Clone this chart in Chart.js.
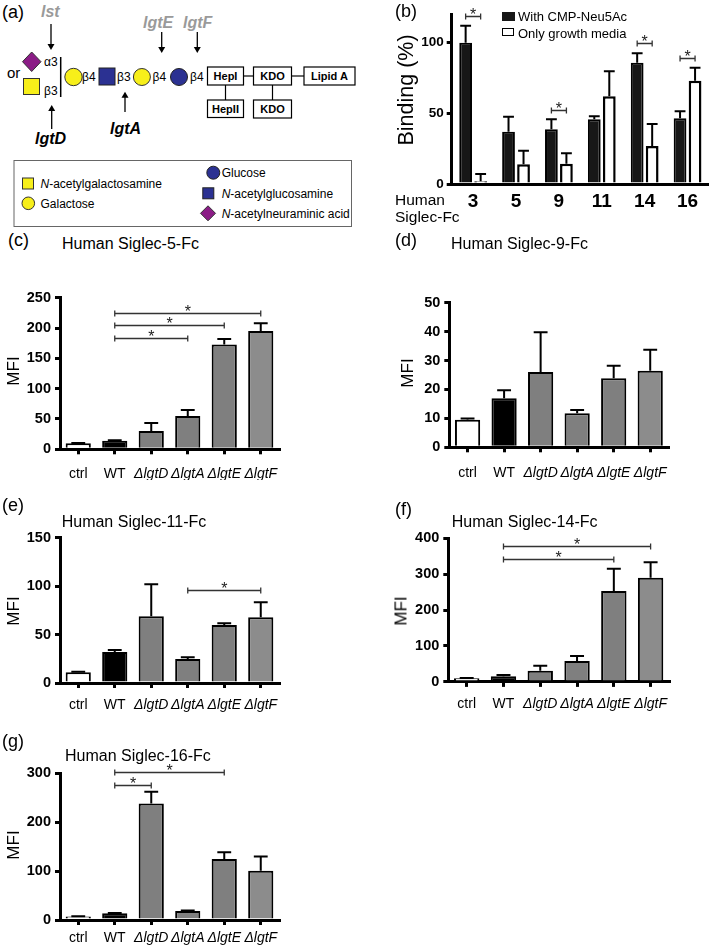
<!DOCTYPE html>
<html><head><meta charset="utf-8">
<script src="https://cdn.jsdelivr.net/npm/chart.js@4.4.1/dist/chart.umd.min.js"></script>
<style>
html,body{margin:0;padding:0;background:#fff;}
body{width:709px;height:946px;position:relative;overflow:hidden;font-family:"Liberation Sans",Arial,sans-serif;color:#000;}
canvas{position:absolute;}
.t{position:absolute;white-space:nowrap;line-height:1;}
</style></head><body>
<svg width="360" height="232" style="position:absolute;left:0;top:0" font-family="Liberation Sans, Arial, sans-serif">
  <text x="2" y="18" font-size="18">(a)</text>
  <text x="41" y="17" font-size="16" font-weight="bold" font-style="italic" fill="#9a9a9a">lst</text>
  <line x1="51" y1="24" x2="51" y2="45" stroke="#000" stroke-width="1.3"/>
  <polygon points="47.5,44 54.5,44 51,50" fill="#000"/>
  <text x="143" y="28" font-size="16" font-weight="bold" font-style="italic" fill="#9a9a9a">lgtE</text>
  <text x="183" y="28" font-size="16" font-weight="bold" font-style="italic" fill="#9a9a9a">lgtF</text>
  <line x1="161.7" y1="32" x2="161.7" y2="48" stroke="#000" stroke-width="1.3"/>
  <polygon points="158.2,47 165.2,47 161.7,53" fill="#000"/>
  <line x1="197.3" y1="32" x2="197.3" y2="48" stroke="#000" stroke-width="1.3"/>
  <polygon points="193.8,47 200.8,47 197.3,53" fill="#000"/>
  <polygon points="31.7,52 41,61.7 31.7,71.5 22.5,61.7" fill="#8b1c86" stroke="#333" stroke-width="1"/>
  <text x="44" y="66" font-size="12">α3</text>
  <text x="7" y="78" font-size="15">or</text>
  <rect x="23.5" y="78.5" width="16" height="16" fill="#f7ef1a" stroke="#333" stroke-width="1"/>
  <text x="44" y="95" font-size="12">β3</text>
  <line x1="60.7" y1="57" x2="60.7" y2="97" stroke="#000" stroke-width="1.5"/>
  <circle cx="73.5" cy="77" r="8.7" fill="#f7ef1a" stroke="#333" stroke-width="1"/>
  <text x="82" y="81" font-size="12">β4</text>
  <rect x="99" y="68" width="16" height="17" fill="#2b3192" stroke="#222" stroke-width="1"/>
  <text x="117" y="81" font-size="12">β3</text>
  <circle cx="141.9" cy="77" r="8.5" fill="#f7ef1a" stroke="#333" stroke-width="1"/>
  <text x="152.5" y="81" font-size="12">β4</text>
  <circle cx="179" cy="77" r="8.5" fill="#2b3192" stroke="#222" stroke-width="1"/>
  <text x="190" y="81" font-size="12">β4</text>
  <rect x="207.5" y="67" width="36" height="18" fill="#fff" stroke="#000" stroke-width="1.2"/>
  <text x="225.5" y="80" font-size="11" font-weight="bold" text-anchor="middle">HepI</text>
  <line x1="243.5" y1="76" x2="253.5" y2="76" stroke="#000" stroke-width="1.2"/>
  <rect x="253.5" y="67" width="38" height="18" fill="#fff" stroke="#000" stroke-width="1.2"/>
  <text x="272.5" y="80" font-size="11" font-weight="bold" text-anchor="middle">KDO</text>
  <line x1="291.5" y1="76" x2="304" y2="76" stroke="#000" stroke-width="1.2"/>
  <rect x="304" y="67" width="51" height="18" fill="#fff" stroke="#000" stroke-width="1.2"/>
  <text x="329.5" y="80" font-size="11" font-weight="bold" text-anchor="middle">Lipid A</text>
  <line x1="225.5" y1="85" x2="225.5" y2="100" stroke="#000" stroke-width="1.2"/>
  <rect x="207.5" y="100" width="36" height="17.5" fill="#fff" stroke="#000" stroke-width="1.2"/>
  <text x="225.5" y="112.5" font-size="11" font-weight="bold" text-anchor="middle">HepII</text>
  <line x1="272.5" y1="85" x2="272.5" y2="100" stroke="#000" stroke-width="1.2"/>
  <rect x="253.5" y="100" width="38" height="18" fill="#fff" stroke="#000" stroke-width="1.2"/>
  <text x="272.5" y="113" font-size="11" font-weight="bold" text-anchor="middle">KDO</text>
  <line x1="51.7" y1="110" x2="51.7" y2="129" stroke="#000" stroke-width="1.3"/>
  <polygon points="48.2,111 55.2,111 51.7,105" fill="#000"/>
  <text x="35" y="144" font-size="16" font-weight="bold" font-style="italic">lgtD</text>
  <line x1="125" y1="96" x2="125" y2="112" stroke="#000" stroke-width="1.3"/>
  <polygon points="121.5,97.7 128.5,97.7 125,91.7" fill="#000"/>
  <text x="110" y="134" font-size="16" font-weight="bold" font-style="italic">lgtA</text>
  <rect x="14" y="160.5" width="337.5" height="66" fill="none" stroke="#666" stroke-width="1"/>
  <rect x="22.5" y="178" width="11" height="11" fill="#f7ef1a" stroke="#333" stroke-width="1"/>
  <text x="40.5" y="188" font-size="12"><tspan font-style="italic">N</tspan>-acetylgalactosamine</text>
  <circle cx="28.3" cy="203.3" r="6.3" fill="#f7ef1a" stroke="#333" stroke-width="1"/>
  <text x="40.5" y="207.5" font-size="12">Galactose</text>
  <circle cx="213.3" cy="172.7" r="6.5" fill="#2b3192" stroke="#222" stroke-width="1"/>
  <text x="221.7" y="177" font-size="12">Glucose</text>
  <rect x="202.8" y="187.8" width="11" height="11" fill="#2b3192" stroke="#222" stroke-width="1"/>
  <text x="221.7" y="197.5" font-size="12"><tspan font-style="italic">N</tspan>-acetylglucosamine</text>
  <polygon points="208,205.8 215.5,213.3 208,220.8 200.5,213.3" fill="#8b1c86" stroke="#333" stroke-width="1"/>
  <text x="221.7" y="217.5" font-size="12"><tspan font-style="italic">N</tspan>-acetylneuraminic acid</text>
</svg>
<script>
// ---------- data ----------
const mutants = ['ctrl', 'WT', 'ΔlgtD', 'ΔlgtA', 'ΔlgtE', 'ΔlgtF'];
const siglecs = ['3', '5', '9', '11', '14', '16'];
const seriesNames = ['With CMP-Neu5Ac', 'Only growth media'];

const bWith    = [100, 37, 38.7, 45.8, 85.8, 46.5];
const bWithErr = [12, 10.6, 7.1, 2.2, 6.7, 4.9];
const bOnly    = [2, 14, 14.4, 62, 26.9, 73.1];
const bOnlyErr = [5, 9.6, 7.3, 17.7, 15.6, 9.2];
const bTicks   = [0, 50, 100];
const bSig     = [[0, 119], [2, 52.4], [4, 99.6], [5, 89]];

const cMFI = [10, 14, 30, 55, 173, 195];
const cErr = [0.5, 1, 13.5, 10, 9, 13];
const cTicks = [0, 50, 100, 150, 200, 250];
const cSig = [[1, 3, 183], [1, 4, 204.5], [1, 5, 225.5]];

const dMFI = [9.5, 17, 26, 11.8, 23.9, 26.5];
const dErr = [0.5, 2.7, 13.8, 1.1, 4.3, 7.2];
const dTicks = [0, 10, 20, 30, 40, 50];
const dSig = [];

const eMFI = [11, 32, 69, 24.7, 60, 68];
const eErr = [0.5, 2, 33, 2, 1.7, 15.3];
const eTicks = [0, 50, 100, 150];
const eSig = [[3, 5, 95.8]];

const fMFI = [10, 16, 31, 58, 253, 290];
const fErr = [1, 3, 14, 14, 62, 43];
const fTicks = [0, 100, 200, 300, 400];
const fSig = [[1, 4, 341], [1, 5, 379]];

const gMFI = [7, 14, 238, 18.4, 124.7, 100.8];
const gErr = [0.5, 0.5, 24.5, 1, 13.7, 29.2];
const gTicks = [0, 100, 200, 300];
const gSig = [[1, 2, 277], [1, 4, 302.6]];

// ---------- styling ----------
const FF = '"Liberation Sans", Arial, sans-serif';
const barFill = ['#ffffff', '#000000', '#7f7f7f', '#7f7f7f', '#7f7f7f', '#8c8c8c'];

const errPlugin = {
  id: 'errbars',
  afterDatasetsDraw(chart) {
    const ctx = chart.ctx, y = chart.scales.y;
    const capR = (chart.options.plugins.errbars || {}).cap || 0.55;
    chart.data.datasets.forEach((ds, di) => {
      if (!ds.errors) return;
      const meta = chart.getDatasetMeta(di);
      meta.data.forEach((bar, i) => {
        const e = ds.errors[i];
        if (e == null) return;
        const top = y.getPixelForValue(ds.data[i] + e);
        const cap = bar.width * capR;
        ctx.save();
        ctx.strokeStyle = '#000'; ctx.lineWidth = 2;
        ctx.beginPath();
        ctx.moveTo(bar.x, bar.y); ctx.lineTo(bar.x, top);
        ctx.moveTo(bar.x - cap / 2, top); ctx.lineTo(bar.x + cap / 2, top);
        ctx.stroke();
        ctx.restore();
      });
    });
  }
};

const sigPlugin = {
  id: 'sig',
  afterDatasetsDraw(chart) {
    const list = (chart.options.plugins.sig || {}).brackets || [];
    const ctx = chart.ctx, y = chart.scales.y;
    list.forEach(s => {
      let x1, x2, v;
      if (s.length === 2) {
        x1 = chart.getDatasetMeta(0).data[s[0]].x;
        x2 = chart.getDatasetMeta(1).data[s[0]].x;
        v = s[1];
      } else {
        const m = chart.getDatasetMeta(0).data;
        x1 = m[s[0]].x; x2 = m[s[1]].x; v = s[2];
      }
      const py = Math.round(y.getPixelForValue(v)) + 0.5;
      ctx.save();
      ctx.strokeStyle = '#333'; ctx.lineWidth = 1.3;
      ctx.beginPath();
      ctx.moveTo(x1, py); ctx.lineTo(x2, py);
      ctx.moveTo(x1, py - 3); ctx.lineTo(x1, py + 3);
      ctx.moveTo(x2, py - 3); ctx.lineTo(x2, py + 3);
      ctx.stroke();
      ctx.fillStyle = '#222';
      ctx.font = '16px ' + FF;
      ctx.textAlign = 'center'; ctx.textBaseline = 'alphabetic';
      ctx.fillText('*', (x1 + x2) / 2, py + 3.5);
      ctx.restore();
    });
  }
};

function makeCanvas(box) {
  const cv = document.createElement('canvas');
  cv.width = box.w; cv.height = box.h;
  cv.style.left = box.x + 'px'; cv.style.top = box.y + 'px';
  document.body.appendChild(cv);
  return cv;
}

function mfiChart(box, area, values, errs, ticks, sig, labelPad) {
  const cv = makeCanvas(box);
  const yW = area.left - box.x, xH = box.y + box.h - area.bottom;
  return new Chart(cv, {
    type: 'bar',
    data: { labels: mutants, datasets: [{
      data: values, errors: errs, backgroundColor: barFill, borderColor: '#000',
      borderWidth: 2, barPercentage: 0.69, categoryPercentage: 1 }] },
    options: {
      responsive: false, animation: false, events: [],
      layout: { padding: { left: 0, top: area.top - box.y, right: box.x + box.w - area.right, bottom: 0 } },
      plugins: { legend: { display: false }, tooltip: { enabled: false }, sig: { brackets: sig }, errbars: { cap: 0.55 } },
      scales: {
        x: {
          offset: true,
          grid: { display: true, drawOnChartArea: false, drawTicks: true, tickLength: 5, lineWidth: 3, color: '#000', offset: false },
          border: { display: true, color: '#000', width: 3 },
          ticks: { color: '#000', padding: labelPad, maxRotation: 0, autoSkip: false,
            font: c => ({ family: FF, size: 14, style: c.index >= 2 ? 'italic' : 'normal' }) },
          afterFit: s => { s.height = xH; }
        },
        y: {
          min: 0, max: ticks[ticks.length - 1],
          afterBuildTicks: s => { s.ticks = ticks.map(v => ({ value: v })); },
          grid: { drawOnChartArea: false, tickLength: 5, lineWidth: 3, color: '#000' },
          border: { color: '#000', width: 3 },
          ticks: { color: '#000', padding: 4, font: { family: FF, size: 14.5, weight: 'bold' } },
          afterFit: s => { s.width = yW; }
        }
      }
    },
    plugins: [errPlugin, sigPlugin]
  });
}

// ---------- panel (b) ----------
(function () {
  const box = { x: 395, y: 0, w: 314, h: 230 };
  const area = { left: 451.7, top: 14.4, bottom: 184, right: 709 };
  const cv = makeCanvas(box);
  new Chart(cv, {
    type: 'bar',
    data: { labels: siglecs, datasets: [
      { label: seriesNames[0], data: bWith, errors: bWithErr, backgroundColor: '#171717', borderColor: '#000', borderWidth: 2, categoryPercentage: 0.7, barPercentage: 0.85 },
      { label: seriesNames[1], data: bOnly, errors: bOnlyErr, backgroundColor: '#ffffff', borderColor: '#000', borderWidth: 2.5, categoryPercentage: 0.7, barPercentage: 0.85 }
    ] },
    options: {
      responsive: false, animation: false, events: [],
      layout: { padding: { left: 0, top: area.top - box.y, right: box.x + box.w - area.right, bottom: 0 } },
      plugins: { legend: { display: false }, tooltip: { enabled: false }, sig: { brackets: bSig }, errbars: { cap: 0.85 } },
      scales: {
        x: {
          grid: { display: false },
          border: { display: true, color: '#000', width: 3 },
          ticks: { color: '#000', padding: -2, maxRotation: 0, font: { family: FF, size: 19, weight: 'bold' } },
          afterFit: s => { s.height = box.y + box.h - area.bottom; }
        },
        y: {
          min: 0, max: 120,
          afterBuildTicks: s => { s.ticks = bTicks.map(v => ({ value: v })); },
          grid: { drawOnChartArea: false, tickLength: 5, lineWidth: 3, color: '#000' },
          border: { color: '#000', width: 3 },
          ticks: { color: '#000', padding: 3, font: { family: FF, size: 13.5, weight: 'bold' } },
          afterFit: s => { s.width = area.left - box.x; }
        }
      }
    },
    plugins: [errPlugin, sigPlugin]
  });
})();

// ---------- MFI panels ----------
mfiChart({ x: 0, y: 285, w: 290, h: 195 }, { left: 60, top: 294, bottom: 449.3, right: 279 }, cMFI, cErr, cTicks, cSig, 11.5);
mfiChart({ x: 400, y: 285, w: 280, h: 195 }, { left: 449.3, top: 302.7, bottom: 447.3, right: 669 }, dMFI, dErr, dTicks, dSig, 12.5);
mfiChart({ x: 0, y: 525, w: 290, h: 190 }, { left: 60, top: 535, bottom: 683, right: 279 }, eMFI, eErr, eTicks, eSig, 9);
mfiChart({ x: 400, y: 525, w: 280, h: 190 }, { left: 448.3, top: 538.3, bottom: 681.9, right: 669 }, fMFI, fErr, fTicks, fSig, 9);
mfiChart({ x: 0, y: 760, w: 290, h: 186 }, { left: 60, top: 773.3, bottom: 920, right: 279 }, gMFI, gErr, gTicks, gSig, 5);

// ---------- text labels ----------
function txt(s, x, yc, size, extra, rot) {
  const d = document.createElement('div');
  d.className = 't';
  d.textContent = s;
  d.style.fontSize = size + 'px';
  if (extra) Object.assign(d.style, extra);
  if (rot) {
    d.style.left = x + 'px'; d.style.top = yc + 'px';
    d.style.transform = 'translate(-50%,-50%) rotate(-90deg)';
  } else {
    d.style.left = x + 'px'; d.style.top = (yc - size * 0.5) + 'px';
  }
  document.body.appendChild(d);
}
txt('(b)', 395, 11, 18);
txt('Binding (%)', 406.7, 90, 21.5, null, true);
txt('Human', 395, 200, 15.5);
txt('Siglec-Fc', 395, 217, 15.5);
txt(seriesNames[0], 518, 16.7, 13);
txt(seriesNames[1], 518, 33, 13);
(function () {
  const a = document.createElement('div');
  Object.assign(a.style, { position: 'absolute', left: '502px', top: '11.5px', width: '13px', height: '9px', background: '#171717', border: '0' });
  document.body.appendChild(a);
  const b = document.createElement('div');
  Object.assign(b.style, { position: 'absolute', left: '502px', top: '27.5px', width: '10px', height: '6px', background: '#fff', border: '1.5px solid #000' });
  document.body.appendChild(b);
})();

txt('(c)', 8, 240, 18);
txt('Human Siglec-5-Fc', 62, 244, 16);
txt('MFI', 13, 371, 17, null, true);
txt('(d)', 395, 240, 18);
txt('Human Siglec-9-Fc', 451, 244, 16);
txt('MFI', 406.7, 373, 17, null, true);
txt('(e)', 2, 505, 18);
txt('Human Siglec-11-Fc', 61.7, 522, 16);
txt('MFI', 13, 611, 17, null, true);
txt('(f)', 395, 509, 18);
txt('Human Siglec-14-Fc', 451.7, 522, 16);
txt('MFI', 401, 611, 17, null, true);
txt('(g)', 2, 741, 18);
txt('Human Siglec-16-Fc', 65, 756, 16);
txt('MFI', 13, 845, 17, null, true);
</script>
</body></html>
